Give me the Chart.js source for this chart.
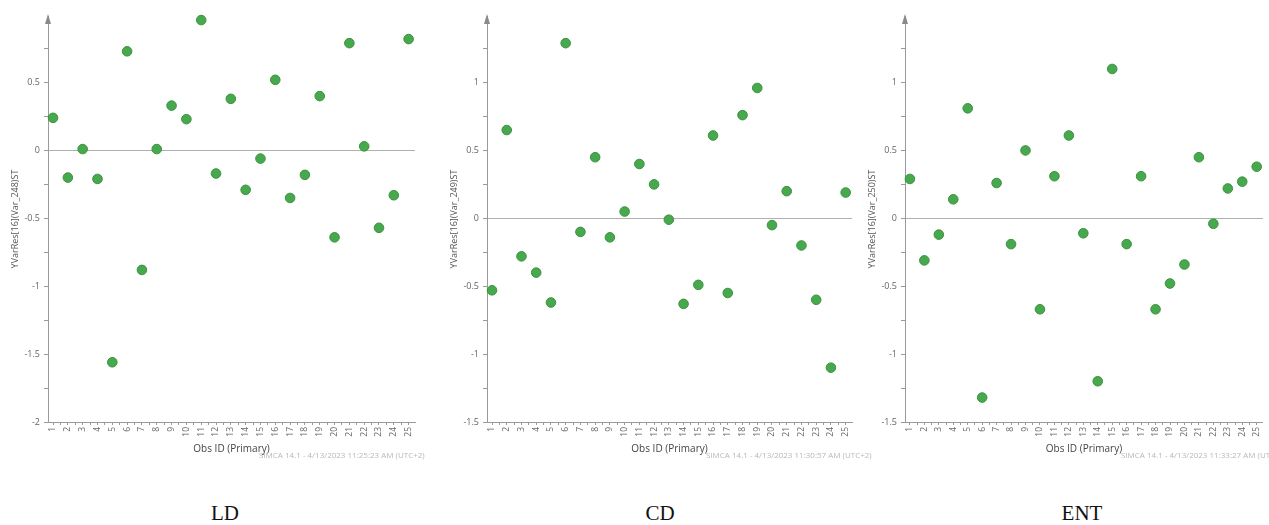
<!DOCTYPE html>
<html>
<head>
<meta charset="utf-8">
<script src="https://cdn.jsdelivr.net/npm/chart.js@4.4.1/dist/chart.umd.min.js"></script>
<style>
    body { margin: 0; background: #fff; }
    #page { position: relative; width: 1269px; height: 525px; overflow: hidden; background: #fff; }
    #page canvas { position: absolute; top: 0; }
    .stamp { position: absolute; top: 449px; font: 8px 'Open Sans', sans-serif; color: #b8b8b8; white-space: nowrap; }
    .caption { position: absolute; top: 501px; width: 120px; margin-left: -60px; text-align: center;
               font: 21px 'Liberation Serif', 'Times New Roman', serif; color: #111; line-height: 24px; }
</style>
</head>
<body>
<div id="page">
    <canvas id="chart_ld" width="430" height="480" style="left:0px"></canvas>
    <canvas id="chart_cd" width="430" height="480" style="left:430px"></canvas>
    <canvas id="chart_ent" width="409" height="480" style="left:860px"></canvas>

    <div class="stamp" style="left:259px">SIMCA 14.1 - 4/13/2023 11:25:23 AM (UTC+2)</div>
    <div class="stamp" style="left:706px">SIMCA 14.1 - 4/13/2023 11:30:57 AM (UTC+2)</div>
    <div class="stamp" style="left:1121px">SIMCA 14.1 - 4/13/2023 11:33:27 AM (UTC+2)</div>

    <div class="caption" style="left:225px">LD</div>
    <div class="caption" style="left:660px">CD</div>
    <div class="caption" style="left:1082px">ENT</div>
</div>

<script>
var obsIds = [1, 2, 3, 4, 5, 6, 7, 8, 9, 10, 11, 12, 13, 14, 15, 16, 17, 18, 19, 20, 21, 22, 23, 24, 25];

var ldValues = [0.24, -0.20, 0.01, -0.21, -1.56, 0.73, -0.88, 0.01, 0.33, 0.23, 0.96, -0.17, 0.38,
                -0.29, -0.06, 0.52, -0.35, -0.18, 0.40, -0.64, 0.79, 0.03, -0.57, -0.33, 0.82];
var cdValues = [-0.53, 0.65, -0.28, -0.40, -0.62, 1.29, -0.10, 0.45, -0.14, 0.05, 0.40, 0.25, -0.01,
                -0.63, -0.49, 0.61, -0.55, 0.76, 0.96, -0.05, 0.20, -0.20, -0.60, -1.10, 0.19];
var entValues = [0.29, -0.31, -0.12, 0.14, 0.81, -1.32, 0.26, -0.19, 0.50, -0.67, 0.31, 0.61, -0.11,
                 -1.20, 1.10, -0.19, 0.31, -0.67, -0.48, -0.34, 0.45, -0.04, 0.22, 0.27, 0.38];

// labelled y ticks, minor marks go half way between
var ldYTicks = [-2, -1.5, -1, -0.5, 0, 0.5];
var cdYTicks = [-1.5, -1, -0.5, 0, 0.5, 1];
var entYTicks = [-1.5, -1, -0.5, 0, 0.5, 1];

var FONT = "'Open Sans', 'Noto Sans', sans-serif";
var AXIS = '#9a9a9a';

// little arrow head on top of the y axis
var axisArrow = {
    id: 'axisArrow',
    afterDraw: function(chart) {
        var a = chart.chartArea;
        var ctx = chart.ctx;
        ctx.save();
        ctx.fillStyle = '#8a8a8a';
        ctx.beginPath();
        ctx.moveTo(a.left, a.top - 2);
        ctx.lineTo(a.left - 3, a.top + 8);
        ctx.lineTo(a.left + 3, a.top + 8);
        ctx.closePath();
        ctx.fill();
        ctx.restore();
    }
};

function withMinor(major) {
    var out = [];
    for (var i = 0; i < major.length; i++) {
        out.push(major[i]);
        out.push(major[i] + 0.25);
    }
    return out;
}

function residualChart(canvasId, values, yTicks, yMin, yMax, yTitle, yWidth, titlePad, padRight) {
    var points = obsIds.map(function(id, i) { return { x: id, y: values[i] }; });
    var xTicks = [];
    obsIds.forEach(function(id, i) {
        xTicks.push(id);
        if (i < obsIds.length - 1) xTicks.push(id + 0.5);
    });

    return new Chart(document.getElementById(canvasId), {
        type: 'scatter',
        data: {
            datasets: [{
                data: points,
                backgroundColor: '#48a84d',
                borderColor: '#3b9240',
                borderWidth: 1,
                pointRadius: 4.8,
                pointHoverRadius: 4.8,
                clip: false
            }]
        },
        options: {
            responsive: false,
            animation: false,
            events: [],
            layout: { padding: { top: 16, right: padRight, left: 0, bottom: 0 } },
            plugins: {
                legend: { display: false },
                tooltip: { enabled: false }
            },
            scales: {
                x: {
                    type: 'linear',
                    min: 0.66,
                    max: 25.43,
                    afterBuildTicks: function(scale) {
                        scale.ticks = xTicks.map(function(v) { return { value: v }; });
                    },
                    afterFit: function(scale) { scale.height = 58; },
                    grid: { drawOnChartArea: false, tickLength: 3, color: AXIS },
                    border: { color: AXIS },
                    ticks: {
                        autoSkip: false,
                        minRotation: 90,
                        maxRotation: 90,
                        padding: 2,
                        color: '#666',
                        font: { size: 8.5, family: FONT },
                        callback: function(v) { return Number.isInteger(v) ? String(v) : ''; }
                    },
                    title: {
                        display: true,
                        text: 'Obs ID (Primary)',
                        color: '#444',
                        font: { size: 10, family: FONT },
                        padding: { top: 0, bottom: 25 }
                    }
                },
                y: {
                    min: yMin,
                    max: yMax,
                    afterBuildTicks: function(scale) {
                        scale.ticks = withMinor(yTicks).filter(function(v) { return v <= yMax; })
                            .map(function(v) { return { value: v }; });
                    },
                    afterFit: function(scale) { scale.width = yWidth; },
                    grid: {
                        drawOnChartArea: true,
                        tickLength: 4,
                        tickColor: AXIS,
                        color: function(ctx) {
                            return ctx.tick && ctx.tick.value === 0 ? '#b0b0b0' : 'rgba(0,0,0,0)';
                        }
                    },
                    border: { color: AXIS },
                    ticks: {
                        padding: 4,
                        color: '#666',
                        font: { size: 9, family: FONT },
                        callback: function(v) { return yTicks.indexOf(v) >= 0 ? String(v) : ''; }
                    },
                    title: {
                        display: true,
                        text: yTitle,
                        color: '#555',
                        font: { size: 9, family: FONT },
                        padding: { top: titlePad, bottom: 0 }
                    }
                }
            }
        },
        plugins: [axisArrow]
    });
}

document.addEventListener('DOMContentLoaded', function() {
    residualChart('chart_ld', ldValues, ldYTicks, -2, 0.99, 'YVarRes[16](Var_248)ST', 48, 9.6, 15);
    residualChart('chart_cd', cdValues, cdYTicks, -1.5, 1.49, 'YVarRes[16](Var_249)ST', 57, 18.6, 8);
    residualChart('chart_ent', entValues, entYTicks, -1.5, 1.49, 'YVarRes[16](Var_250)ST', 45, 6.6, 2);
});
</script>
</body>
</html>
